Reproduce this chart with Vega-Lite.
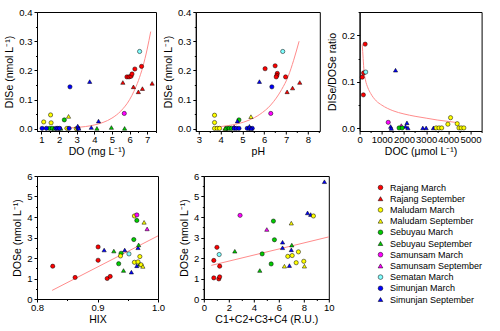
{
  "$schema": "https://vega.github.io/schema/vega-lite/v6.json",
  "background": "white",
  "padding": {"left": 4, "top": 6, "right": 0, "bottom": 0},
  "config": {
    "font": "Liberation Sans",
    "view": {"stroke": "#000", "strokeWidth": 1},
    "axis": {"grid": false, "domainColor": "#000", "domainWidth": 1, "tickColor": "#000", "tickWidth": 1, "labelColor": "#000", "titleColor": "#000", "labelFont": "Liberation Sans", "titleFont": "Liberation Sans", "labelFontSize": 9.5, "titleFontSize": 10.5, "titleFontWeight": "normal", "labelFlush": false, "labelOverlap": false},
    "axisX": {"labelPadding": 0.5, "titlePadding": 2},
    "axisY": {"labelPadding": 2, "titlePadding": 4},
    "text": {"font": "Liberation Sans", "color": "#000"}
  },
  "datasets": {
    "a": [
      {"group": "Rajang March", "x": 5.85, "y": 0.178}, {"group": "Rajang March", "x": 5.97, "y": 0.178}, {"group": "Rajang March", "x": 6.08, "y": 0.18}, {"group": "Rajang March", "x": 6.14, "y": 0.188}, {"group": "Rajang March", "x": 6.3, "y": 0.205}, {"group": "Rajang March", "x": 6.68, "y": 0.214},
      {"group": "Rajang September", "x": 5.62, "y": 0.159}, {"group": "Rajang September", "x": 6.22, "y": 0.144}, {"group": "Rajang September", "x": 6.5, "y": 0.127}, {"group": "Rajang September", "x": 6.73, "y": 0.138}, {"group": "Rajang September", "x": 7.28, "y": 0.156},
      {"group": "Maludam March", "x": 1.13, "y": 0.024}, {"group": "Maludam March", "x": 1.52, "y": 0.048}, {"group": "Maludam March", "x": 1.55, "y": 0.021}, {"group": "Maludam March", "x": 2.45, "y": 0.002}, {"group": "Maludam March", "x": 2.98, "y": 0.001},
      {"group": "Maludam September", "x": 2.54, "y": 0.043},
      {"group": "Sebuyau March", "x": 2.3, "y": 0.031}, {"group": "Sebuyau March", "x": 1.46, "y": 0.002}, {"group": "Sebuyau March", "x": 1.62, "y": 0.002},
      {"group": "Sebuyau September", "x": 1.72, "y": 0.002}, {"group": "Sebuyau September", "x": 2.1, "y": 0.002}, {"group": "Sebuyau September", "x": 4.15, "y": 0.002}, {"group": "Sebuyau September", "x": 4.97, "y": 0.005}, {"group": "Sebuyau September", "x": 5.72, "y": 0.002},
      {"group": "Samunsam March", "x": 5.7, "y": 0.053},
      {"group": "Sematan March", "x": 6.57, "y": 0.265},
      {"group": "Simunjan March", "x": 2.62, "y": 0.144}, {"group": "Simunjan March", "x": 1.04, "y": 0.002}, {"group": "Simunjan March", "x": 1.28, "y": 0.002}, {"group": "Simunjan March", "x": 1.83, "y": 0.002}, {"group": "Simunjan March", "x": 1.93, "y": 0.002}, {"group": "Simunjan March", "x": 2.03, "y": 0.002}, {"group": "Simunjan March", "x": 2.57, "y": 0.002}, {"group": "Simunjan March", "x": 3.07, "y": 0.002},
      {"group": "Simunjan September", "x": 3.74, "y": 0.162}, {"group": "Simunjan September", "x": 4.24, "y": 0.027}, {"group": "Simunjan September", "x": 3.06, "y": 0.01}, {"group": "Simunjan September", "x": 3.12, "y": 0.002}, {"group": "Simunjan September", "x": 3.83, "y": 0.005}
    ],
    "b": [
      {"group": "Rajang March", "x": 6.04, "y": 0.206}, {"group": "Rajang March", "x": 6.5, "y": 0.216}, {"group": "Rajang March", "x": 6.6, "y": 0.19}, {"group": "Rajang March", "x": 6.58, "y": 0.183}, {"group": "Rajang March", "x": 6.55, "y": 0.178}, {"group": "Rajang March", "x": 6.98, "y": 0.178},
      {"group": "Rajang September", "x": 7.05, "y": 0.127}, {"group": "Rajang September", "x": 7.3, "y": 0.14}, {"group": "Rajang September", "x": 7.63, "y": 0.159},
      {"group": "Maludam March", "x": 3.72, "y": 0.047}, {"group": "Maludam March", "x": 3.72, "y": 0.022}, {"group": "Maludam March", "x": 3.72, "y": 0.002}, {"group": "Maludam March", "x": 3.84, "y": 0.002}, {"group": "Maludam March", "x": 3.95, "y": 0.002},
      {"group": "Maludam September", "x": 5.39, "y": 0.042}, {"group": "Maludam September", "x": 4.2, "y": 0.002},
      {"group": "Sebuyau March", "x": 4.84, "y": 0.031}, {"group": "Sebuyau March", "x": 4.3, "y": 0.002}, {"group": "Sebuyau March", "x": 4.4, "y": 0.002}, {"group": "Sebuyau March", "x": 4.5, "y": 0.002},
      {"group": "Sebuyau September", "x": 4.22, "y": 0.002},
      {"group": "Samunsam March", "x": 6.3, "y": 0.053},
      {"group": "Samunsam September", "x": 4.62, "y": 0.007},
      {"group": "Sematan March", "x": 6.85, "y": 0.265},
      {"group": "Simunjan March", "x": 6.35, "y": 0.144}, {"group": "Simunjan March", "x": 4.62, "y": 0.002}, {"group": "Simunjan March", "x": 4.72, "y": 0.002}, {"group": "Simunjan March", "x": 4.84, "y": 0.002}, {"group": "Simunjan March", "x": 5.22, "y": 0.002}, {"group": "Simunjan March", "x": 5.32, "y": 0.002}, {"group": "Simunjan March", "x": 5.45, "y": 0.002},
      {"group": "Simunjan September", "x": 5.78, "y": 0.162}, {"group": "Simunjan September", "x": 4.77, "y": 0.027}, {"group": "Simunjan September", "x": 5.32, "y": 0.009}, {"group": "Simunjan September", "x": 5.4, "y": 0.002}
    ],
    "c": [
      {"group": "Rajang March", "x": 250, "y": 0.181}, {"group": "Rajang March", "x": 180, "y": 0.119}, {"group": "Rajang March", "x": 120, "y": 0.11}, {"group": "Rajang March", "x": 170, "y": 0.072},
      {"group": "Sematan March", "x": 275, "y": 0.121},
      {"group": "Simunjan September", "x": 1620, "y": 0.125}, {"group": "Simunjan September", "x": 1400, "y": 0.004}, {"group": "Simunjan September", "x": 1430, "y": 0.0}, {"group": "Simunjan September", "x": 2070, "y": 0.004}, {"group": "Simunjan September", "x": 2135, "y": 0.012}, {"group": "Simunjan September", "x": 2180, "y": 0.001}, {"group": "Simunjan September", "x": 2850, "y": 0.001}, {"group": "Simunjan September", "x": 3000, "y": 0.001}, {"group": "Simunjan September", "x": 3330, "y": 0.001},
      {"group": "Samunsam March", "x": 1290, "y": 0.013},
      {"group": "Samunsam September", "x": 1880, "y": 0.006},
      {"group": "Sebuyau March", "x": 1780, "y": 0.001}, {"group": "Sebuyau March", "x": 1920, "y": 0.001},
      {"group": "Maludam March", "x": 3450, "y": 0.001}, {"group": "Maludam March", "x": 3580, "y": 0.001}, {"group": "Maludam March", "x": 3700, "y": 0.001}, {"group": "Maludam March", "x": 3980, "y": 0.009}, {"group": "Maludam March", "x": 4100, "y": 0.023}, {"group": "Maludam March", "x": 4400, "y": 0.01}, {"group": "Maludam March", "x": 4480, "y": 0.001}, {"group": "Maludam March", "x": 4580, "y": 0.001}, {"group": "Maludam March", "x": 4700, "y": 0.001}
    ],
    "d": [
      {"group": "Rajang March", "x": 0.826, "y": 1.6}, {"group": "Rajang March", "x": 0.863, "y": 1.05}, {"group": "Rajang March", "x": 0.901, "y": 2.54}, {"group": "Rajang March", "x": 0.901, "y": 1.89}, {"group": "Rajang March", "x": 0.916, "y": 1.0}, {"group": "Rajang March", "x": 0.921, "y": 1.1},
      {"group": "Simunjan September", "x": 0.911, "y": 2.39}, {"group": "Simunjan September", "x": 0.945, "y": 2.39}, {"group": "Simunjan September", "x": 0.956, "y": 1.31}, {"group": "Simunjan September", "x": 0.965, "y": 1.62}, {"group": "Simunjan September", "x": 0.967, "y": 2.5},
      {"group": "Sebuyau September", "x": 0.927, "y": 2.34}, {"group": "Sebuyau September", "x": 0.943, "y": 1.39}, {"group": "Sebuyau September", "x": 0.968, "y": 2.64}, {"group": "Sebuyau September", "x": 0.97, "y": 1.7},
      {"group": "Sebuyau March", "x": 0.935, "y": 1.72}, {"group": "Sebuyau March", "x": 0.939, "y": 2.23}, {"group": "Sebuyau March", "x": 0.96, "y": 2.9}, {"group": "Sebuyau March", "x": 0.965, "y": 3.83},
      {"group": "Maludam March", "x": 0.938, "y": 2.1}, {"group": "Maludam March", "x": 0.961, "y": 4.05}, {"group": "Maludam March", "x": 0.961, "y": 1.79}, {"group": "Maludam March", "x": 0.967, "y": 1.81}, {"group": "Maludam March", "x": 0.97, "y": 2.07}, {"group": "Maludam March", "x": 0.972, "y": 1.67},
      {"group": "Maludam September", "x": 0.977, "y": 3.74}, {"group": "Maludam September", "x": 0.975, "y": 1.59},
      {"group": "Samunsam March", "x": 0.965, "y": 4.1},
      {"group": "Samunsam September", "x": 0.982, "y": 3.42},
      {"group": "Sematan March", "x": 0.952, "y": 2.2}
    ],
    "e": [
      {"group": "Rajang March", "x": 0.8, "y": 1.03}, {"group": "Rajang March", "x": 0.8, "y": 1.88}, {"group": "Rajang March", "x": 1.05, "y": 2.52}, {"group": "Rajang March", "x": 1.2, "y": 0.98}, {"group": "Rajang March", "x": 1.27, "y": 1.08}, {"group": "Rajang March", "x": 1.27, "y": 1.6},
      {"group": "Sematan March", "x": 1.23, "y": 2.17},
      {"group": "Samunsam March", "x": 2.9, "y": 4.08},
      {"group": "Samunsam September", "x": 5.04, "y": 3.39},
      {"group": "Sebuyau September", "x": 2.48, "y": 2.33}, {"group": "Sebuyau September", "x": 4.48, "y": 1.39}, {"group": "Sebuyau September", "x": 7.04, "y": 2.63},
      {"group": "Sebuyau March", "x": 4.67, "y": 2.2}, {"group": "Sebuyau March", "x": 5.39, "y": 1.71}, {"group": "Sebuyau March", "x": 5.57, "y": 3.8}, {"group": "Sebuyau March", "x": 5.65, "y": 2.89},
      {"group": "Simunjan September", "x": 6.3, "y": 2.77}, {"group": "Simunjan September", "x": 6.3, "y": 2.5}, {"group": "Simunjan September", "x": 6.85, "y": 1.63}, {"group": "Simunjan September", "x": 7.0, "y": 2.4}, {"group": "Simunjan September", "x": 8.3, "y": 4.2}, {"group": "Simunjan September", "x": 8.55, "y": 4.12}, {"group": "Simunjan September", "x": 9.65, "y": 5.72},
      {"group": "Maludam March", "x": 6.72, "y": 2.08}, {"group": "Maludam March", "x": 7.07, "y": 2.12}, {"group": "Maludam March", "x": 7.39, "y": 1.77}, {"group": "Maludam March", "x": 7.57, "y": 2.3}, {"group": "Maludam March", "x": 8.0, "y": 1.84}, {"group": "Maludam March", "x": 8.77, "y": 4.05},
      {"group": "Maludam September", "x": 7.0, "y": 3.7}, {"group": "Maludam September", "x": 6.45, "y": 1.6}, {"group": "Maludam September", "x": 8.05, "y": 1.6}
    ],
    "fa": [{"x": 2.3, "y": 0.0025}, {"x": 3, "y": 0.005}, {"x": 3.5, "y": 0.0082}, {"x": 4, "y": 0.0136}, {"x": 4.5, "y": 0.0224}, {"x": 5, "y": 0.037}, {"x": 5.5, "y": 0.061}, {"x": 6, "y": 0.1}, {"x": 6.25, "y": 0.129}, {"x": 6.5, "y": 0.165}, {"x": 6.75, "y": 0.212}, {"x": 7, "y": 0.273}, {"x": 7.2, "y": 0.333}],
    "fb": [{"x": 3.8, "y": 0.0067}, {"x": 4.3, "y": 0.011}, {"x": 4.8, "y": 0.018}, {"x": 5.3, "y": 0.03}, {"x": 5.8, "y": 0.05}, {"x": 6.3, "y": 0.082}, {"x": 6.8, "y": 0.135}, {"x": 7.1, "y": 0.18}, {"x": 7.35, "y": 0.235}, {"x": 7.6, "y": 0.3}],
    "fc": [{"x": 120, "y": 0.18}, {"x": 160, "y": 0.15}, {"x": 200, "y": 0.123}, {"x": 260, "y": 0.105}, {"x": 375, "y": 0.087}, {"x": 500, "y": 0.075}, {"x": 750, "y": 0.059}, {"x": 1000, "y": 0.05}, {"x": 1500, "y": 0.038}, {"x": 2000, "y": 0.031}, {"x": 2500, "y": 0.026}, {"x": 3000, "y": 0.022}, {"x": 3500, "y": 0.018}, {"x": 4000, "y": 0.015}, {"x": 4450, "y": 0.012}],
    "fd": [{"x": 0.825, "y": 0.42}, {"x": 1.0, "y": 3.08}],
    "fe": [{"x": 0.6, "y": 1.64}, {"x": 10, "y": 3.03}]
  },
  "concat": [
    {
      "hconcat": [
        {
          "width": 119, "height": 119,
          "encoding": {
            "x": {"field": "x", "type": "quantitative", "scale": {"domain": [0.75, 7.5], "nice": false, "zero": false}, "axis": {"title": "DO (mg L⁻¹)", "values": [1, 1.5, 2, 2.5, 3, 3.5, 4, 4.5, 5, 5.5, 6, 6.5, 7, 7.5], "labelExpr": "datum.value % 1 === 0 ? format(datum.value, 'd') : ''", "tickSize": {"condition": {"test": "datum.value % 1 === 0", "value": 3}, "value": 1.5}}},
            "y": {"field": "y", "type": "quantitative", "scale": {"domain": [-0.007, 0.4], "nice": false, "zero": false}, "axis": {"title": "DISe (nmol L⁻¹)", "values": [0, 0.05, 0.1, 0.15, 0.2, 0.25, 0.3, 0.35, 0.4], "labelExpr": "abs(datum.value*10 - round(datum.value*10)) < 0.001 ? format(datum.value, '.1f') : ''", "tickSize": {"condition": {"test": "abs(datum.value*10 - round(datum.value*10)) < 0.001", "value": 3}, "value": 1.5}}}
          },
          "layer": [
            {"data": {"name": "fa"}, "mark": {"type": "line", "color": "#ff8c8c", "strokeWidth": 1, "interpolate": "monotone"}},
            {"data": {"name": "a"}, "mark": {"type": "point", "filled": true, "size": 18, "stroke": "#000", "strokeWidth": 0.5, "opacity": 1},
             "encoding": {
               "color": {"field": "group", "type": "nominal", "scale": {"domain": ["Rajang March", "Rajang September", "Maludam March", "Maludam September", "Sebuyau March", "Sebuyau September", "Samunsam March", "Samunsam September", "Sematan March", "Simunjan March", "Simunjan September"], "range": ["#ff0000", "#ff0000", "#ffff00", "#ffff00", "#00cc00", "#00cc00", "#ff00ff", "#ff00ff", "#80ffff", "#0000ff", "#0000ff"]}, "legend": {"orient": "none", "legendX": 339, "legendY": 171, "title": null, "symbolSize": 22, "labelFontSize": 9, "labelFont": "Liberation Sans", "labelColor": "#000", "rowPadding": 1.2, "symbolStrokeColor": "#000", "symbolStrokeWidth": 0.5, "labelOffset": 5, "padding": 0}},
               "shape": {"field": "group", "type": "nominal", "scale": {"domain": ["Rajang March", "Rajang September", "Maludam March", "Maludam September", "Sebuyau March", "Sebuyau September", "Samunsam March", "Samunsam September", "Sematan March", "Simunjan March", "Simunjan September"], "range": ["circle", "triangle-up", "circle", "triangle-up", "circle", "triangle-up", "circle", "triangle-up", "circle", "circle", "triangle-up"]}, "legend": {"orient": "none", "legendX": 339, "legendY": 171, "title": null, "symbolSize": 22, "labelFontSize": 9, "labelFont": "Liberation Sans", "labelColor": "#000", "rowPadding": 1.2, "symbolStrokeColor": "#000", "symbolStrokeWidth": 0.5, "labelOffset": 5, "padding": 0}}
             }},
            {"data": {"values": [{}]}, "mark": {"type": "text", "text": "(a)", "fontSize": 9, "align": "left", "baseline": "middle"}, "encoding": {"x": {"datum": 1.05}, "y": {"datum": 0.354}}},
            {"data": {"values": [{}]}, "mark": {"type": "text", "text": "y=e", "fontSize": 7, "align": "left", "baseline": "middle"}, "encoding": {"x": {"datum": 2.13}, "y": {"datum": 0.351}}},
            {"data": {"values": [{}]}, "mark": {"type": "text", "text": "(x-8.3)", "fontSize": 6, "align": "left", "baseline": "middle", "dx": 11.5, "dy": -4}, "encoding": {"x": {"datum": 2.13}, "y": {"datum": 0.351}}},
            {"data": {"values": [{}]}, "mark": {"type": "text", "text": "R²=0.36 p=0.001", "fontSize": 7, "align": "left", "baseline": "middle"}, "encoding": {"x": {"datum": 2.13}, "y": {"datum": 0.318}}}
          ]
        },
        {
          "width": 124, "height": 119,
          "encoding": {
            "x": {"field": "x", "type": "quantitative", "scale": {"domain": [2.86, 8.55], "nice": false, "zero": false}, "axis": {"title": "pH", "values": [3, 3.5, 4, 4.5, 5, 5.5, 6, 6.5, 7, 7.5, 8, 8.5], "labelExpr": "datum.value % 1 === 0 ? format(datum.value, 'd') : ''", "tickSize": {"condition": {"test": "datum.value % 1 === 0", "value": 3}, "value": 1.5}}},
            "y": {"field": "y", "type": "quantitative", "scale": {"domain": [-0.007, 0.4], "nice": false, "zero": false}, "axis": {"title": "DISe (nmol L⁻¹)", "values": [0, 0.05, 0.1, 0.15, 0.2, 0.25, 0.3, 0.35, 0.4], "labelExpr": "abs(datum.value*10 - round(datum.value*10)) < 0.001 ? format(datum.value, '.1f') : ''", "tickSize": {"condition": {"test": "abs(datum.value*10 - round(datum.value*10)) < 0.001", "value": 3}, "value": 1.5}}}
          },
          "layer": [
            {"data": {"name": "fb"}, "mark": {"type": "line", "color": "#ff8c8c", "strokeWidth": 1, "interpolate": "monotone"}},
            {"data": {"name": "b"}, "mark": {"type": "point", "filled": true, "size": 18, "stroke": "#000", "strokeWidth": 0.5, "opacity": 1},
             "encoding": {
               "color": {"field": "group", "type": "nominal"},
               "shape": {"field": "group", "type": "nominal"}
             }},
            {"data": {"values": [{}]}, "mark": {"type": "text", "text": "(b)", "fontSize": 9, "align": "left", "baseline": "middle"}, "encoding": {"x": {"datum": 3.28}, "y": {"datum": 0.354}}},
            {"data": {"values": [{}]}, "mark": {"type": "text", "text": "y=e", "fontSize": 7, "align": "left", "baseline": "middle"}, "encoding": {"x": {"datum": 4.19}, "y": {"datum": 0.351}}},
            {"data": {"values": [{}]}, "mark": {"type": "text", "text": "(x-8.8)", "fontSize": 6, "align": "left", "baseline": "middle", "dx": 11.5, "dy": -4}, "encoding": {"x": {"datum": 4.19}, "y": {"datum": 0.351}}},
            {"data": {"values": [{}]}, "mark": {"type": "text", "text": "R²=0.58 p=0.001", "fontSize": 7, "align": "left", "baseline": "middle"}, "encoding": {"x": {"datum": 4.19}, "y": {"datum": 0.318}}}
          ]
        },
        {
          "width": 122, "height": 119,
          "encoding": {
            "x": {"field": "x", "type": "quantitative", "scale": {"domain": [0, 5500], "nice": false, "zero": false}, "axis": {"title": "DOC (μmol L⁻¹)", "values": [0, 500, 1000, 1500, 2000, 2500, 3000, 3500, 4000, 4500, 5000, 5500], "labelExpr": "datum.value % 1000 === 0 ? format(datum.value, 'd') : ''", "tickSize": {"condition": {"test": "datum.value % 1000 === 0", "value": 3}, "value": 1.5}}},
            "y": {"field": "y", "type": "quantitative", "scale": {"domain": [-0.0056, 0.25], "nice": false, "zero": false}, "axis": {"title": "DISe/DOSe ratio", "values": [0, 0.05, 0.1, 0.15, 0.2, 0.25], "labelExpr": "abs(datum.value*10 - round(datum.value*10)) < 0.001 ? format(datum.value, '.1f') : ''", "tickSize": {"condition": {"test": "abs(datum.value*10 - round(datum.value*10)) < 0.001", "value": 3}, "value": 1.5}}}
          },
          "layer": [
            {"data": {"name": "fc"}, "mark": {"type": "line", "color": "#ff8c8c", "strokeWidth": 1, "interpolate": "monotone"}},
            {"data": {"name": "c"}, "mark": {"type": "point", "filled": true, "size": 18, "stroke": "#000", "strokeWidth": 0.5, "opacity": 1},
             "encoding": {
               "color": {"field": "group", "type": "nominal"},
               "shape": {"field": "group", "type": "nominal"}
             }},
            {"data": {"values": [{}]}, "mark": {"type": "text", "text": "(c)", "fontSize": 9, "align": "left", "baseline": "middle"}, "encoding": {"x": {"datum": 480}, "y": {"datum": 0.222}}},
            {"data": {"values": [{}]}, "mark": {"type": "text", "text": "y=11.9x", "fontSize": 6, "align": "left", "baseline": "middle"}, "encoding": {"x": {"datum": 1320}, "y": {"datum": 0.229}}},
            {"data": {"values": [{}]}, "mark": {"type": "text", "text": "-0.87", "fontSize": 5, "align": "left", "baseline": "middle", "dx": 21, "dy": -3}, "encoding": {"x": {"datum": 1320}, "y": {"datum": 0.229}}},
            {"data": {"values": [{}]}, "mark": {"type": "text", "text": "R²=0.70 p<0.001", "fontSize": 6, "align": "left", "baseline": "middle"}, "encoding": {"x": {"datum": 1320}, "y": {"datum": 0.21}}}
          ]
        }
      ],
      "spacing": 39.8,
      "bounds": "flush"
    },
    {
      "hconcat": [
        {
          "width": 121, "height": 123,
          "encoding": {
            "x": {"field": "x", "type": "quantitative", "scale": {"domain": [0.8, 1.0], "nice": false, "zero": false}, "axis": {"title": "HIX", "values": [0.8, 0.85, 0.9, 0.95, 1.0], "labelExpr": "abs(datum.value*10 - round(datum.value*10)) < 0.001 ? format(datum.value, '.1f') : ''", "tickSize": {"condition": {"test": "abs(datum.value*10 - round(datum.value*10)) < 0.001", "value": 3}, "value": 1.5}}},
            "y": {"field": "y", "type": "quantitative", "scale": {"domain": [0, 6], "nice": false, "zero": false}, "axis": {"title": "DOSe (nmol L⁻¹)", "values": [0, 0.5, 1, 1.5, 2, 2.5, 3, 3.5, 4, 4.5, 5, 5.5, 6], "labelExpr": "datum.value % 1 === 0 ? format(datum.value, 'd') : ''", "tickSize": {"condition": {"test": "datum.value % 1 === 0", "value": 3}, "value": 1.5}}}
          },
          "layer": [
            {"data": {"name": "fd"}, "mark": {"type": "line", "color": "#ff8c8c", "strokeWidth": 1}},
            {"data": {"name": "d"}, "mark": {"type": "point", "filled": true, "size": 18, "stroke": "#000", "strokeWidth": 0.5, "opacity": 1},
             "encoding": {
               "color": {"field": "group", "type": "nominal"},
               "shape": {"field": "group", "type": "nominal"}
             }},
            {"data": {"values": [{}]}, "mark": {"type": "text", "text": "(d)", "fontSize": 9, "align": "left", "baseline": "middle"}, "encoding": {"x": {"datum": 0.814}, "y": {"datum": 5.26}}},
            {"data": {"values": [{}]}, "mark": {"type": "text", "text": "y=15.2x-12.7", "fontSize": 6, "align": "left", "baseline": "middle"}, "encoding": {"x": {"datum": 0.851}, "y": {"datum": 5.59}}},
            {"data": {"values": [{}]}, "mark": {"type": "text", "text": "R²=0.32 p=0.007", "fontSize": 6, "align": "left", "baseline": "middle"}, "encoding": {"x": {"datum": 0.851}, "y": {"datum": 5.1}}}
          ]
        },
        {
          "width": 125, "height": 123,
          "encoding": {
            "x": {"field": "x", "type": "quantitative", "scale": {"domain": [0, 10], "nice": false, "zero": false}, "axis": {"title": "C1+C2+C3+C4 (R.U.)", "values": [0, 1, 2, 3, 4, 5, 6, 7, 8, 9, 10], "labelExpr": "datum.value % 2 === 0 ? format(datum.value, 'd') : ''", "tickSize": {"condition": {"test": "datum.value % 2 === 0", "value": 3}, "value": 1.5}}},
            "y": {"field": "y", "type": "quantitative", "scale": {"domain": [0, 6], "nice": false, "zero": false}, "axis": {"title": "DOSe (nmol L⁻¹)", "values": [0, 0.5, 1, 1.5, 2, 2.5, 3, 3.5, 4, 4.5, 5, 5.5, 6], "labelExpr": "datum.value % 1 === 0 ? format(datum.value, 'd') : ''", "tickSize": {"condition": {"test": "datum.value % 1 === 0", "value": 3}, "value": 1.5}}}
          },
          "layer": [
            {"data": {"name": "fe"}, "mark": {"type": "line", "color": "#ff8c8c", "strokeWidth": 1}},
            {"data": {"name": "e"}, "mark": {"type": "point", "filled": true, "size": 18, "stroke": "#000", "strokeWidth": 0.5, "opacity": 1},
             "encoding": {
               "color": {"field": "group", "type": "nominal"},
               "shape": {"field": "group", "type": "nominal"}
             }},
            {"data": {"values": [{}]}, "mark": {"type": "text", "text": "(e)", "fontSize": 9, "align": "left", "baseline": "middle"}, "encoding": {"x": {"datum": 0.85}, "y": {"datum": 5.26}}},
            {"data": {"values": [{}]}, "mark": {"type": "text", "text": "y=0.15x+1.55", "fontSize": 6, "align": "left", "baseline": "middle"}, "encoding": {"x": {"datum": 2.45}, "y": {"datum": 5.59}}},
            {"data": {"values": [{}]}, "mark": {"type": "text", "text": "R²=0.27 p=0.001", "fontSize": 6, "align": "left", "baseline": "middle"}, "encoding": {"x": {"datum": 2.45}, "y": {"datum": 5.1}}}
          ]
        }
      ],
      "spacing": 45.8,
      "bounds": "flush"
    }
  ],
  "columns": 1,
  "align": "none",
  "spacing": 13
}
